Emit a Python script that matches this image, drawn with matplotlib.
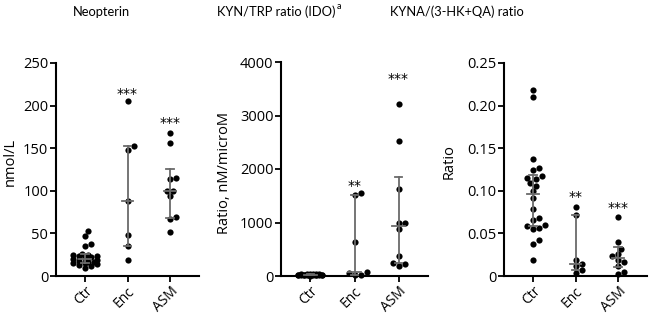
import matplotlib
matplotlib.use('Agg')
import matplotlib.pyplot as plt
import numpy as np

plt.rcParams['font.family'] = ['Open Sans', 'DejaVu Sans']

groups = ['Ctr', 'Enc', 'ASM']

# Neopterin, nmol/L
neo_ctr = [53, 47, 38, 35, 26, 25, 25, 24, 23, 22, 21, 20, 19, 18, 17, 16, 15, 15, 14, 13, 12, 9]
neo_enc = [205, 152, 148, 88, 48, 35, 19]
neo_asm = [168, 156, 115, 114, 100, 100, 94, 69, 67, 52]

# KYN/TRP ratio, nM/microM
kt_ctr = [45, 40, 38, 35, 32, 30, 28, 27, 25, 24, 22, 20, 19, 18, 17, 15, 14, 12, 10, 8]
kt_enc = [1550, 1510, 630, 70, 50, 25, 10]
kt_asm = [3220, 2530, 1630, 1000, 990, 870, 370, 240, 220, 180]

# KYNA/(3-HK+QA) ratio
kq_ctr = [0.218, 0.210, 0.137, 0.127, 0.125, 0.117, 0.115, 0.114, 0.109, 0.106, 0.100,
          0.092, 0.079, 0.068, 0.066, 0.060, 0.059, 0.056, 0.055, 0.042, 0.037, 0.019]
kq_enc = [0.081, 0.072, 0.019, 0.014, 0.012, 0.007, 0.003]
kq_asm = [0.069, 0.040, 0.032, 0.026, 0.023, 0.019, 0.017, 0.012, 0.005, 0.002]

panels = [
    dict(title='Neopterin', ylabel='nmol/L', data=[neo_ctr, neo_enc, neo_asm],
         ylim=250, ticks=[0, 50, 100, 150, 200, 250], fmt='{:g}',
         stars=['', '***', '***'], star_y=[0, 214, 180],
         rect=[56, 63, 143, 213], lab=(-0.27, 0.535), title_x=101),
    dict(title='KYN/TRP ratio (IDO)', ylabel='Ratio, nM/microM', data=[kt_ctr, kt_enc, kt_asm],
         ylim=4000, ticks=[0, 1000, 2000, 3000, 4000], fmt='{:g}',
         stars=['', '**', '***'], star_y=[0, 1690, 3680],
         rect=[281, 62, 147, 214], lab=(-0.33, 0.48), title_x=276),
    dict(title='KYNA/(3-HK+QA) ratio', ylabel='Ratio', data=[kq_ctr, kq_enc, kq_asm],
         ylim=0.25, ticks=[0, 0.05, 0.10, 0.15, 0.20, 0.25], fmt='{:.2f}',
         stars=['', '**', '***'], star_y=[0, 0.093, 0.080],
         rect=[504, 63, 143, 213], lab=(-0.33, 0.535), title_x=457),
]

W, H = 657, 315
fig = plt.figure(figsize=(W / 100, H / 100), dpi=100)


def swarm(vals, ypx, xpx, d=6.0, maxoff=13.0):
    # simple beeswarm with limited width; offsets returned in x data units
    order = np.argsort(vals)
    placed = []
    offs = np.zeros(len(vals))
    step = 0.5 * d
    cands = [0.0]
    k = 1
    while k * step <= maxoff:
        cands += [k * step, -k * step]
        k += 1
    for i in order:
        y = vals[i] * ypx
        best, bestd = 0.0, -1
        for c in cands:
            md = min([np.hypot(c - px, y - py) for px, py in placed] + [1e9])
            if md >= d * 0.95:
                best = c
                break
            if md > bestd:
                best, bestd = c, md
        placed.append((best, y))
        offs[i] = best / xpx
    return offs


titles = []
for p in panels:
    l, t, w, h = p['rect']
    ax = fig.add_axes([l / W, 1 - (t + h) / H, w / W, h / H])
    ax.set_xlim(-0.67, 2.67)
    ax.set_ylim(0, p['ylim'])
    ypx = h / p['ylim']
    xpx = w / 3.34
    for i, vals in enumerate(p['data']):
        vals = np.array(vals, dtype=float)
        xs = i + swarm(vals, ypx, xpx)
        ax.scatter(xs, vals, s=20, color='black', zorder=2, clip_on=False, linewidths=0)
        q1, med, q3 = np.percentile(vals, [25, 50, 75], method='weibull')
        c = '#6a6a6a'
        ax.plot([i, i], [q1, q3], color=c, lw=1.3, zorder=3)
        ax.plot([i - 0.09, i + 0.09], [q1, q1], color=c, lw=1.3, zorder=3)
        ax.plot([i - 0.09, i + 0.09], [q3, q3], color=c, lw=1.3, zorder=3)
        ax.plot([i - 0.14, i + 0.14], [med, med], color=c, lw=1.3, zorder=3)
        if p['stars'][i]:
            ax.text(i, p['star_y'][i], p['stars'][i], ha='center', va='center',
                    fontsize=10, family='DejaVu Sans')
    ax.set_xticks(range(3))
    ax.set_xticklabels(groups, rotation=45, ha='right', rotation_mode='anchor', fontsize=10)
    ax.set_yticks(p['ticks'])
    ax.set_yticklabels([p['fmt'].format(v) if v != 0 else '0' for v in p['ticks']], fontsize=10.5)
    ax.spines['top'].set_visible(False)
    ax.spines['right'].set_visible(False)
    ax.spines['left'].set_linewidth(1.5)
    ax.spines['bottom'].set_linewidth(1.5)
    ax.tick_params(width=1.3, length=4, pad=1.5)
    ax.set_ylabel(p['ylabel'], fontsize=10.5)
    ax.yaxis.set_label_coords(p['lab'][0], p['lab'][1])
    titles.append(fig.text(p['title_x'] / W, 1 - 12 / H, p['title'], ha='center', va='center',
                           fontsize=9.3, family=['Lato', 'DejaVu Sans']))

# superscript "a" right after the middle title
fig.canvas.draw()
bb = titles[1].get_window_extent(fig.canvas.get_renderer())
fig.text((bb.x1 + 1) / W, (bb.y1 - 1) / H, 'a', ha='left', va='center', fontsize=6.5,
         family=['Lato', 'DejaVu Sans'])

fig.savefig('out.png', dpi=100)
